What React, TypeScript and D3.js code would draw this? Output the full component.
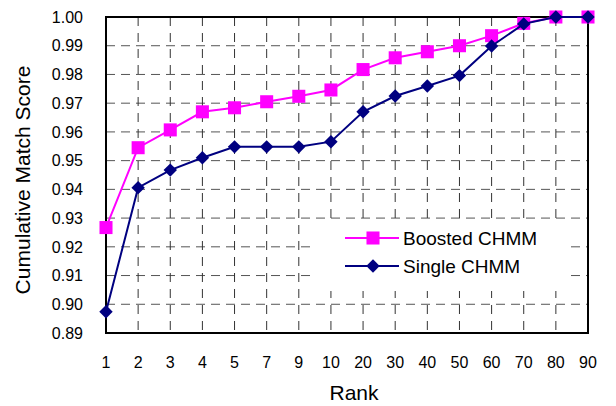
import * as d3 from "d3";
import { useEffect, useRef } from "react";

const ranks = ["1", "2", "3", "4", "5", "7", "9", "10", "20", "30", "40", "50", "60", "70", "80", "90"];
const boosted = [0.9267, 0.9545, 0.9607, 0.967, 0.9684, 0.9705, 0.9724, 0.9746, 0.9817, 0.9858, 0.9879, 0.99, 0.9935, 0.9978, 1.0, 1.0];
const single = [0.8974, 0.9406, 0.9467, 0.951, 0.9548, 0.9548, 0.9548, 0.9566, 0.967, 0.9725, 0.976, 0.9796, 0.9899, 0.9976, 1.0, 1.0];
const yTicks = [0.89, 0.9, 0.91, 0.92, 0.93, 0.94, 0.95, 0.96, 0.97, 0.98, 0.99, 1.0];

function App() {
    const ref = useRef<SVGSVGElement>(null);

    useEffect(() => {
        const width = 616,
            height = 406;
        const margin = { top: 17, right: 28, bottom: 73, left: 106 };
        const innerW = width - margin.left - margin.right;
        const innerH = height - margin.top - margin.bottom;

        const svg = d3.select(ref.current);
        svg.selectAll("*").remove();

        const font = "'Liberation Sans', Arial, sans-serif";

        const x = d3.scalePoint<string>().domain(ranks).range([0, innerW]).padding(0);
        const y = d3.scaleLinear().domain([0.89, 1.0]).range([innerH, 0]);

        const g = svg.append("g").attr("transform", `translate(${margin.left},${margin.top})`);

        // dashed grid
        g.selectAll(".hgrid")
            .data(yTicks.slice(1, -1))
            .join("line")
            .attr("x1", 0)
            .attr("x2", innerW)
            .attr("y1", (d) => y(d))
            .attr("y2", (d) => y(d))
            .attr("stroke", "#555")
            .attr("stroke-width", 1)
            .attr("stroke-dasharray", "9,6");

        g.selectAll(".vgrid")
            .data(ranks.slice(1, -1))
            .join("line")
            .attr("x1", (d) => x(d)!)
            .attr("x2", (d) => x(d)!)
            .attr("y1", 0)
            .attr("y2", innerH)
            .attr("stroke", "#333")
            .attr("stroke-width", 1)
            .attr("stroke-dasharray", "9,7");

        // legend background covers grid
        g.append("rect")
            .attr("x", 312 - margin.left)
            .attr("y", 222 - margin.top)
            .attr("width", 255)
            .attr("height", 69)
            .attr("fill", "white");

        // frame
        g.append("rect")
            .attr("x", 0)
            .attr("y", 0)
            .attr("width", innerW)
            .attr("height", innerH)
            .attr("fill", "none")
            .attr("stroke", "black")
            .attr("stroke-width", 2);

        // y tick labels
        g.selectAll(".ylab")
            .data(yTicks)
            .join("text")
            .attr("x", -23)
            .attr("y", (d) => y(d))
            .attr("dy", "0.36em")
            .attr("text-anchor", "end")
            .style("font-family", font)
            .style("font-size", "16px")
            .text((d) => d3.format(".2f")(d));

        // x tick labels
        g.selectAll(".xlab")
            .data(ranks)
            .join("text")
            .attr("x", (d) => x(d)!)
            .attr("y", innerH + 35)
            .attr("text-anchor", "middle")
            .style("font-family", font)
            .style("font-size", "16px")
            .text((d) => d);

        // axis titles
        svg.append("text")
            .attr("x", 354)
            .attr("y", 400)
            .attr("text-anchor", "middle")
            .style("font-family", font)
            .style("font-size", "21px")
            .text("Rank");

        svg.append("text")
            .attr("transform", `translate(30,180) rotate(-90)`)
            .attr("text-anchor", "middle")
            .style("font-family", font)
            .style("font-size", "21px")
            .text("Cumulative Match Score");

        const line = d3
            .line<number>()
            .x((_, i) => x(ranks[i])!)
            .y((d) => y(d));

        const series = [
            { name: "Boosted CHMM", values: boosted, color: "#FF00FF", size: 170, rot: 0 },
            { name: "Single CHMM", values: single, color: "#000080", size: 90, rot: 45 },
        ];
        const marker = (s: { size: number }) => d3.symbol().type(d3.symbolSquare).size(s.size)();

        series.forEach((s) => {
            g.append("path")
                .datum(s.values)
                .attr("d", line)
                .attr("fill", "none")
                .attr("stroke", s.color)
                .attr("stroke-width", 2);

            g.selectAll(null)
                .data(s.values)
                .join("path")
                .attr("transform", (d, i) => `translate(${x(ranks[i])},${y(d)}) rotate(${s.rot})`)
                .attr("d", marker(s))
                .attr("fill", s.color);
        });

        // legend
        const legend = svg.append("g");
        series.forEach((s, i) => {
            const ly = 238 + i * 28;
            legend.append("line")
                .attr("x1", 345)
                .attr("x2", 399)
                .attr("y1", ly)
                .attr("y2", ly)
                .attr("stroke", s.color)
                .attr("stroke-width", 2);
            legend.append("path")
                .attr("transform", `translate(373,${ly}) rotate(${s.rot})`)
                .attr("d", marker(s))
                .attr("fill", s.color);
            legend.append("text")
                .attr("x", 403)
                .attr("y", ly)
                .attr("dy", "0.36em")
                .style("font-family", font)
                .style("font-size", "19px")
                .text(s.name);
        });
    }, []);

    return (
        <svg
            ref={ref}
            width={616}
            height={406}
            style={{ position: "absolute", left: 0, top: 0, background: "white" }}
        ></svg>
    );
}

export default App;
